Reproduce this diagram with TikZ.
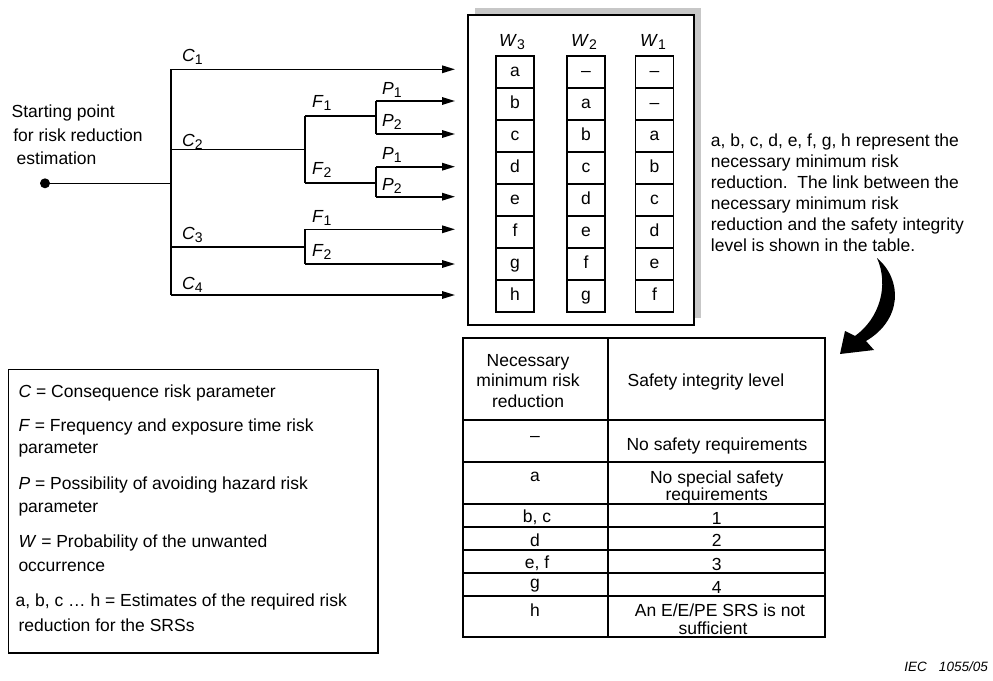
\documentclass[tikz,border=0pt]{standalone}
\usepackage{fontspec}
\setmainfont{Liberation Sans}
\usetikzlibrary{arrows.meta}
\newcommand{\mysub}[2]{\textit{#1}\raisebox{-0.35ex}{\fontsize{14}{14}\selectfont #2}}
\begin{document}
\begin{tikzpicture}[x=1pt,y=-1pt,
  every node/.style={font=\fontsize{17.5}{21}\selectfont, inner sep=0pt},
  line/.style={line width=1.6pt},
  arr/.style={line width=1.6pt, -{Triangle[length=13pt,width=7.5pt]}},
  lbl/.style={anchor=west},
  cell/.style={draw, line width=1.3pt, minimum width=38pt, minimum height=32pt,
    text height=12.6pt, text depth=4pt},
  tbl/.style={line width=1.8pt},
  bt/.style={anchor=base}]
\useasboundingbox (0,0) rectangle (993,680);

% ---------- tree ----------
\node[circle, fill, minimum size=10pt] (start) at (45,183.3) {};
\coordinate (t)   at (171,183.3);
\coordinate (tc1) at (171,69.3);
\coordinate (tc2) at (171,149.3);
\coordinate (tc3) at (171,246.7);
\coordinate (tc4) at (171,295);
\coordinate (f2a) at (305,149.3);
\coordinate (f2t) at (305,116);
\coordinate (f2b) at (305,182.7);
\coordinate (p1a) at (376,116);
\coordinate (p1t) at (376,101);
\coordinate (p1b) at (376,134);
\coordinate (p2a) at (376,182.7);
\coordinate (p2t) at (376,166.7);
\coordinate (p2b) at (376,196.7);
\coordinate (f3a) at (305,246.7);
\coordinate (f3t) at (305,229.3);
\coordinate (f3b) at (305,264);
\coordinate (e1) at (455,69.3);
\coordinate (e2) at (455,101);
\coordinate (e3) at (455,134);
\coordinate (e4) at (455,166.7);
\coordinate (e5) at (455,196.7);
\coordinate (e6) at (455,229.3);
\coordinate (e7) at (455,264);
\coordinate (e8) at (455,295);

\draw[line] (start.center) -- (t);
\draw[line] (tc1) -- (tc4);
\draw[arr] (tc1) -- (e1);
\draw[line] (tc2) -- (f2a);
\draw[line] (f2t) -- (f2b);
\draw[line] (f2t) -- (p1a);
\draw[line] (p1t) -- (p1b);
\draw[arr] (p1t) -- (e2);
\draw[arr] (p1b) -- (e3);
\draw[line] (f2b) -- (p2a);
\draw[line] (p2t) -- (p2b);
\draw[arr] (p2t) -- (e4);
\draw[arr] (p2b) -- (e5);
\draw[line] (tc3) -- (f3a);
\draw[line] (f3t) -- (f3b);
\draw[arr] (f3t) -- (e6);
\draw[arr] (f3b) -- (e7);
\draw[arr] (tc4) -- (e8);

\node[lbl] (lc1) at (182,57) {\mysub{C}{1}};
\node[lbl] (lc2) at (182,141.7) {\mysub{C}{2}};
\node[lbl] (lc3) at (182,235) {\mysub{C}{3}};
\node[lbl] (lc4) at (182,285) {\mysub{C}{4}};
\node[lbl] (lf1) at (312,103) {\mysub{F}{1}};
\node[lbl] (lf2) at (312,170) {\mysub{F}{2}};
\node[lbl] (lf3) at (312,218.3) {\mysub{F}{1}};
\node[lbl] (lf4) at (312,251.7) {\mysub{F}{2}};
\node[lbl] (lp1) at (382,90) {\mysub{P}{1}};
\node[lbl] (lp2) at (382,121.7) {\mysub{P}{2}};
\node[lbl] (lp3) at (382,155) {\mysub{P}{1}};
\node[lbl] (lp4) at (382,185.7) {\mysub{P}{2}};

\node[anchor=west, align=left, font=\fontsize{17.5}{23.3}\selectfont] (stxt) at (11.5,135)
  {Starting point\\\hspace{1.6pt}for risk reduction\\\hspace{5pt}estimation};

% ---------- matrix ----------
\fill[black!22] (475,8) rectangle (701,318);
\draw[line width=1.8pt, fill=white] (468,15) rectangle (694,325);
\node (hw3) at (512,42) {\mysub{W}{3}};
\node (hw2) at (584,42) {\mysub{W}{2}};
\node (hw1) at (653,42) {\mysub{W}{1}};
\foreach \v [count=\i] in {a,b,c,d,e,f,g,h}
  \node[cell] (w3r\i) at (515,40+32*\i) {\v};
\foreach \v [count=\i] in {--,a,b,c,d,e,f,g}
  \node[cell] (w2r\i) at (586,40+32*\i) {\v};
\foreach \v [count=\i] in {--,--,a,b,c,d,e,f}
  \node[cell] (w1r\i) at (654.5,40+32*\i) {\v};

% ---------- right text ----------
\node[anchor=west, align=left] (rtxt) at (710.7,192.5)
  {a, b, c, d, e, f, g, h represent the\\necessary minimum risk\\reduction.\ \ The link between the\\necessary minimum risk\\reduction and the safety integrity\\level is shown in the table.};

% ---------- curved arrow ----------
\fill (877,258) .. controls (903,280) and (902,320) .. (866,341)
  -- (874,350) -- (840,354) -- (845,331) -- (855,336)
  .. controls (880,318) and (889,285) .. (877,258) -- cycle;

% ---------- table ----------
\draw[tbl] (462.7,338.3) rectangle (825,637.3);
\draw[tbl] (607.7,338.3) -- (607.7,637.3);
\foreach \yy in {420,462.3,504,526.7,550,573.3,595.7}
  \draw[tbl] (462.7,\yy) -- (825,\yy);
\node[bt] (th1a) at (528,366.7) {Necessary};
\node[bt] (th1b) at (528,386.7) {minimum risk};
\node[bt] (th1c) at (528,407.3) {reduction};
\node[bt] (th2) at (706,386.7) {Safety integrity level};
\node[bt] (r1a) at (535,441) {--};
\node[bt] (r1b) at (717,450.5) {No safety requirements};
\node[bt] (r2a) at (535,481) {a};
\node[bt] (r2b) at (716.7,483.3) {No special safety};
\node[bt] (r2c) at (716.7,500) {requirements};
\node[bt] (r3a) at (537,522.7) {b, c};
\node[bt] (r3b) at (716.7,524) {1};
\node[bt] (r4a) at (535,546.7) {d};
\node[bt] (r4b) at (716.7,546.7) {2};
\node[bt] (r5a) at (537,568.3) {e, f};
\node[bt] (r5b) at (716.7,570) {3};
\node[bt] (r6a) at (535,588) {g};
\node[bt] (r6b) at (716.7,593.3) {4};
\node[bt] (r7a) at (535,616.7) {h};
\node[bt] (r7b) at (720,616.7) {An E/E/PE SRS is not};
\node[bt] (r7c) at (713,634) {sufficient};

% ---------- legend ----------
\draw[line width=1.6pt] (8.3,369.3) rectangle (377.7,652.7);
\node[lbl] (g1) at (18.3,393.3) {\textit{C} = Consequence risk parameter};
\node[lbl] (g2) at (18.3,426.7) {\textit{F} = Frequency and exposure time risk};
\node[lbl] (g3) at (18.3,450) {parameter};
\node[lbl] (g4) at (18.3,485) {\textit{P} = Possibility of avoiding hazard risk};
\node[lbl] (g5) at (18.3,508.3) {parameter};
\node[lbl] (g6) at (18.3,543.3) {\textit{W} = Probability of the unwanted};
\node[lbl] (g7) at (18.3,566.7) {occurrence};
\node[lbl] (g8) at (15.5,601.7) {a, b, c … h = Estimates of the required risk};
\node[lbl] (g9) at (18.3,625) {reduction for the SRSs};

% ---------- IEC ----------
\node[anchor=east, font=\fontsize{13.5}{14}\selectfont\itshape] (iec) at (988,667) {IEC\hspace{0.9em}1055/05};
\end{tikzpicture}
\end{document}
